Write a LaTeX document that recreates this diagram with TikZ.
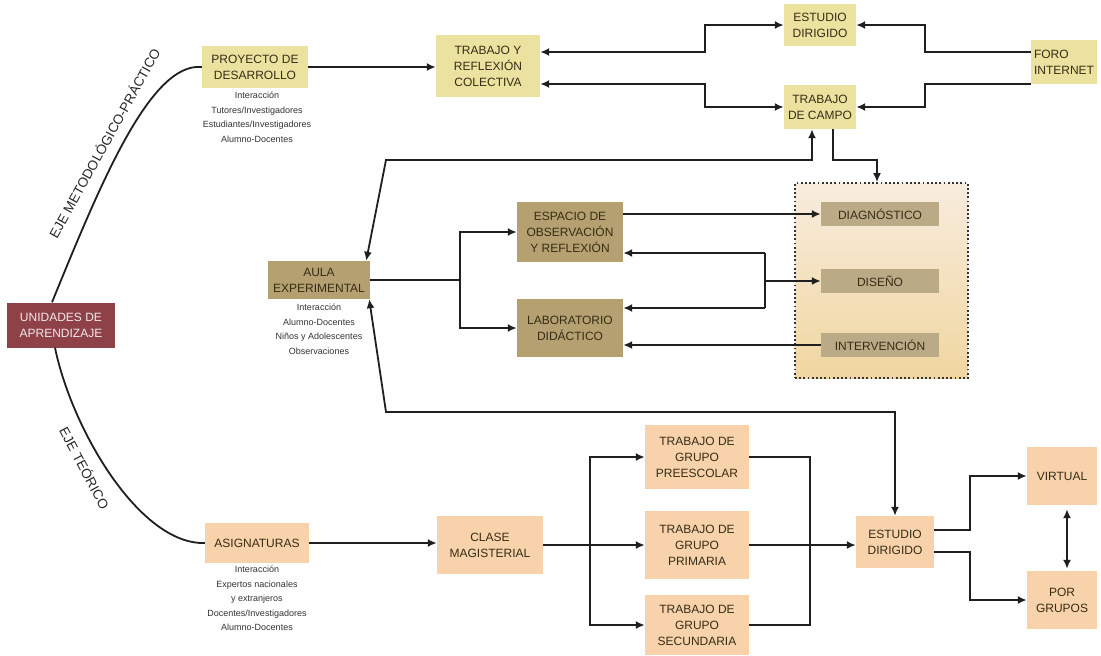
\documentclass[tikz,border=0pt]{standalone}
\usepackage{fontspec}
\setmainfont{Liberation Sans}
\usetikzlibrary{arrows.meta,shadings}
\definecolor{cyel}{RGB}{234,226,158}
\definecolor{cunid}{RGB}{142,66,72}
\definecolor{colive}{RGB}{180,160,112}
\definecolor{cgrey}{RGB}{186,170,134}
\definecolor{cpeach}{RGB}{247,210,170}
\definecolor{tdark}{RGB}{55,45,22}
\definecolor{ftop}{RGB}{248,236,222}
\definecolor{fbot}{RGB}{240,214,160}
\begin{document}
\begin{tikzpicture}[x=1pt,y=-1pt,
  box/.style={rectangle, inner sep=1pt, align=center, text=tdark,
    font=\fontsize{12}{16}\selectfont},
  yb/.style={box, fill=cyel},
  ob/.style={box, fill=colive},
  gb/.style={box, fill=cgrey, minimum width=118, minimum height=24},
  pb/.style={box, fill=cpeach},
  ub/.style={box, fill=cunid, text=white!88!cunid},
  sub/.style={align=center, inner sep=0pt, text=black!80,
    font=\fontsize{9}{14.5}\selectfont},
  axis/.style={inner sep=0pt, text=black!85, font=\fontsize{13.5}{15}\selectfont},
  ln/.style={line width=1.8pt, black!88},
  arr/.style={ln, -{Latex[length=9pt,width=8pt]}},
  darr/.style={ln, {Latex[length=9pt,width=8pt]}-{Latex[length=9pt,width=8pt]}},
  frame/.style={draw=black!80, line width=1.8pt, dash pattern=on 1.8pt off 2.4pt,
    top color=ftop, bottom color=fbot, inner sep=0pt}
]
\path[use as bounding box, fill=white] (0,0) rectangle (1101,656);

% nodes
\node[ub, minimum width=108, minimum height=45] (unid) at (61,325) {UNIDADES DE\\APRENDIZAJE};
\node[yb, minimum width=106, minimum height=42] (proy) at (255,67) {PROYECTO DE\\DESARROLLO};
\node[sub, anchor=north] (proysub) at (257,92) {Interacción\\Tutores/Investigadores\\Estudiantes/Investigadores\\Alumno-Docentes};
\node[yb, minimum width=104, minimum height=62] (tyr) at (488,66) {TRABAJO Y\\REFLEXIÓN\\COLECTIVA};
\node[yb, minimum width=72, minimum height=42] (est1) at (820,25) {ESTUDIO\\DIRIGIDO};
\node[yb, minimum width=72, minimum height=44] (campo) at (820,107) {TRABAJO\\DE CAMPO};
\node[yb, minimum width=66, minimum height=44, align=left] (foro) at (1064,62) {FORO\\INTERNET};

\node[ob, minimum width=102, minimum height=38] (aula) at (319,280) {AULA\\EXPERIMENTAL};
\node[sub, anchor=north] (aulasub) at (319,304) {Interacción\\Alumno-Docentes\\Niños y Adolescentes\\Observaciones};
\node[ob, minimum width=106, minimum height=60] (esp) at (570,232) {ESPACIO DE\\OBSERVACIÓN\\Y REFLEXIÓN};
\node[ob, minimum width=106, minimum height=58] (lab) at (570,328) {LABORATORIO\\DIDÁCTICO};

\node[frame, minimum width=173, minimum height=195] (marco) at (881.5,280.5) {};
\node[gb] (diag) at (880,214) {DIAGNÓSTICO};
\node[gb] (dis) at (880,281) {DISEÑO};
\node[gb] (inter) at (880,345) {INTERVENCIÓN};

\node[pb, minimum width=104, minimum height=40] (asig) at (257,543) {ASIGNATURAS};
\node[sub, anchor=north] (asigsub) at (257,566) {Interacción\\Expertos nacionales\\y extranjeros\\Docentes/Investigadores\\Alumno-Docentes};
\node[pb, minimum width=106, minimum height=58] (clase) at (490,545) {CLASE\\MAGISTERIAL};
\node[pb, minimum width=104, minimum height=64] (pre) at (697,457) {TRABAJO DE\\GRUPO\\PREESCOLAR};
\node[pb, minimum width=104, minimum height=68] (pri) at (697,545) {TRABAJO DE\\GRUPO\\PRIMARIA};
\node[pb, minimum width=104, minimum height=60] (sec) at (697,625) {TRABAJO DE\\GRUPO\\SECUNDARIA};
\node[pb, minimum width=78, minimum height=52] (est2) at (895,542) {ESTUDIO\\DIRIGIDO};
\node[pb, minimum width=70, minimum height=58] (virt) at (1062,476) {VIRTUAL};
\node[pb, minimum width=70, minimum height=58] (grup) at (1062,600) {POR\\GRUPOS};

% axis labels
\node[axis, rotate=61] (ejemp) at (104,143) {EJE METODOLÓGICO-PRÁCTICO};
\node[axis, rotate=-62] (ejet) at (85,468) {EJE TEÓRICO};

% curves
\draw[ln] (unid.north -| 52,0) .. controls (100,185) and (150,62) .. (proy.west);
\draw[ln] (unid.south -| 55,0) .. controls (72,430) and (140,545) .. (asig.west);

% upper connectors
\draw[arr] (proy.east) -- (proy.east -| tyr.west);
\draw[darr] (tyr.east |- 0,52) -- (705,52) |- (est1.west);
\draw[darr] (tyr.east |- 0,84) -- (705,84) |- (campo.west);
\draw[arr] (foro.west |- 0,52) -- (925,52) |- (est1.east);
\draw[arr] (foro.west |- 0,84) -- (925,84) |- (campo.east);
\draw[arr] (campo.south -| 833,0) -- (833,160) -| (marco.north -| 877,0);
\draw[darr] ([xshift=-4pt]aula.north east) -- (386,160) -| (campo.south -| 812,0);

% middle connectors
\draw[ln] (aula.east) -- (460,280);
\draw[arr] (460,280) |- (esp.west);
\draw[arr] (460,280) |- (lab.west);
\draw[arr] (esp.east |- diag.west) -- (diag.west);
\draw[ln] (765,253) -- (765,308);
\draw[arr] (765,253) -- (esp.east |- 0,253);
\draw[arr] (765,308) -- (lab.east |- 0,308);
\draw[arr] (765,281) -- (dis.west);
\draw[arr] (inter.west) -- (lab.east |- inter.west);
\draw[darr] ([xshift=-1pt]aula.south east) -- (386,412) -| (est2.north);

% lower connectors
\draw[arr] (asig.east) -- (asig.east -| clase.west);
\draw[ln] (clase.east) -- (590,545);
\draw[arr] (590,545) |- (pre.west);
\draw[arr] (590,545) |- (pri.west);
\draw[arr] (590,545) |- (sec.west);
\draw[ln] (pre.east) -| (sec.east -| 810,0) -- (sec.east);
\draw[arr] (pri.east) -- (pri.east -| est2.west);
\draw[arr] (est2.east |- 0,530) -- (970,530) |- (virt.west);
\draw[arr] (est2.east |- 0,552) -- (970,552) |- (grup.west);
\draw[darr, shorten <=4pt, shorten >=2pt] (virt.south -| 1067,0) -- (grup.north -| 1067,0);
\end{tikzpicture}
\end{document}
